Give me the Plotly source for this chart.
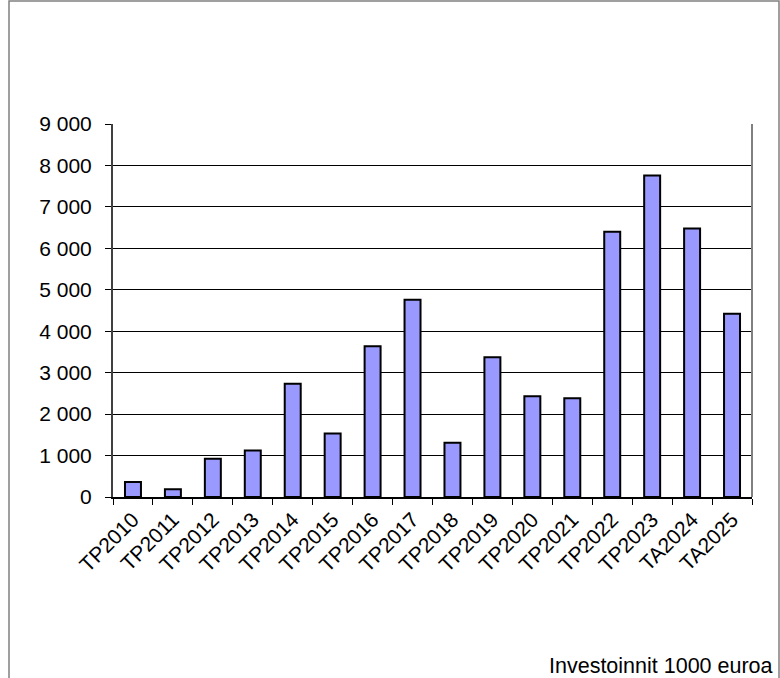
import plotly.graph_objects as go

categories = ["TP2010", "TP2011", "TP2012", "TP2013", "TP2014", "TP2015", "TP2016", "TP2017",
              "TP2018", "TP2019", "TP2020", "TP2021", "TP2022", "TP2023", "TA2024", "TA2025"]
investments = [360, 190, 920, 1120, 2730, 1530, 3640, 4760,
               1310, 3370, 2430, 2380, 6400, 7760, 6480, 4420]
y_ticks = [0, 1000, 2000, 3000, 4000, 5000, 6000, 7000, 8000, 9000]
note_text = "Investoinnit 1000 euroa"

FONT = "Liberation Sans, Arial, sans-serif"

W, H = 780, 678
L, R, T, B = 113, 752, 124, 497  # plot area in pixels


def px_x(x):
    return (x - L) / (R - L)


def px_y(y):
    return (B - y) / (B - T)


fig = go.Figure(
    go.Bar(
        x=categories,
        y=investments,
        marker=dict(color="#9999FF", line=dict(color="#000000", width=2)),
    )
)

fig.update_layout(
    width=W,
    height=H,
    margin=dict(l=L, r=W - R, t=T, b=H - B, pad=0),
    paper_bgcolor="white",
    plot_bgcolor="white",
    bargap=0.6,
    separators=", ",
    showlegend=False,
    font=dict(family=FONT, size=21, color="#000000"),
    xaxis=dict(
        type="category",
        tickangle=-45,
        tickson="boundaries",
        ticks="outside",
        ticklen=6,
        tickcolor="#000000",
        tickwidth=1,
        showline=True,
        linecolor="#000000",
        linewidth=2,
        showgrid=False,
        tickfont=dict(family=FONT, size=21),
    ),
    yaxis=dict(
        range=[0, 9000],
        tickvals=y_ticks,
        tickformat=",",
        ticks="outside",
        ticklen=6,
        tickcolor="#000000",
        showline=True,
        linecolor="#404040",
        linewidth=2,
        showgrid=True,
        gridcolor="#000000",
        gridwidth=1,
        zeroline=False,
        ticklabelstandoff=9,
        tickfont=dict(family=FONT, size=21),
    ),
    shapes=[
        # right border of plot area
        dict(type="line", xref="paper", yref="paper", x0=1, x1=1, y0=0, y1=1,
             line=dict(color="#808080", width=2)),
        # outer frame
        dict(type="rect", xref="paper", yref="paper",
             x0=px_x(9), x1=px_x(779), y0=px_y(700), y1=px_y(1),
             line=dict(color="#808080", width=1.5), fillcolor="rgba(0,0,0,0)", layer="below"),
    ],
    annotations=[
        dict(text=note_text, xref="paper", yref="paper", x=px_x(775), y=px_y(666),
             xanchor="right", yanchor="middle", showarrow=False,
             font=dict(family=FONT, size=21.5, color="#000000")),
    ],
)

fig.write_html(
    "out.html",
    config={"displayModeBar": False},
    post_script="document.body.style.margin='0px';document.body.style.overflow='hidden';",
)
